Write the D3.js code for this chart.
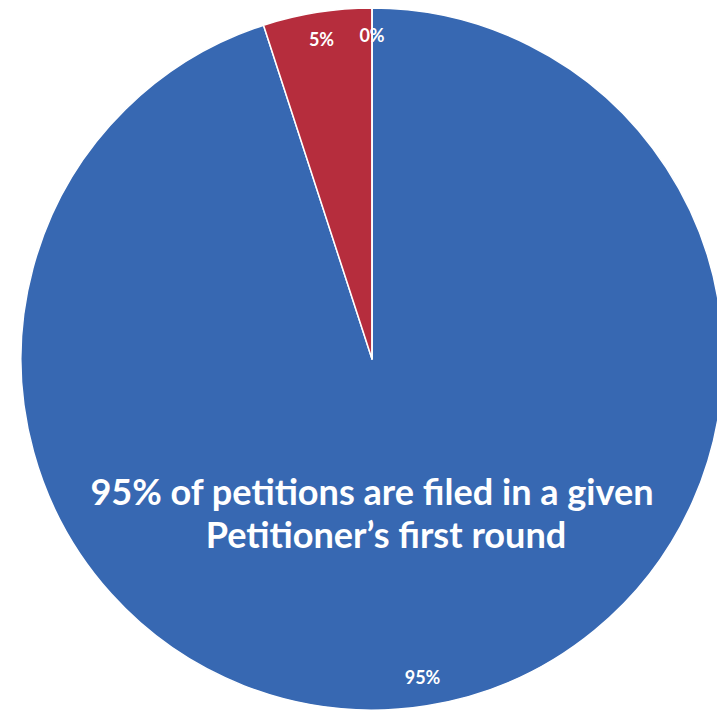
<!DOCTYPE html>
<html>
<head>
<meta charset="utf-8">
<script src="https://cdn.jsdelivr.net/npm/d3@7"></script>
<style>
  html, body { margin: 0; padding: 0; background: #fff; }
  svg { display: block; }
</style>
</head>
<body>
<svg id="chart" width="717" height="712"></svg>
<script>
var width = 717, height = 712;

// data
var categories = ["First round", "Second round", "Later rounds"];
var values = [95, 5, 0];
var labels = ["95%", "5%", "0%"];
var colors = ["#3768b2", "#b62d3d", "#3768b2"];
var noteLines = ["95% of petitions are filed in a given", "Petitioner\u2019s first round"];

var cx = 372, cy = 359, radius = 351;

var svg = d3.select("#chart");
var g = svg.append("g").attr("transform", "translate(" + cx + "," + cy + ")");

var pie = d3.pie().sort(null).value(function(d){ return d; });
var arcs = pie(values);

var arc = d3.arc().innerRadius(0).outerRadius(radius);
var labelArc = d3.arc().innerRadius(323).outerRadius(323);

g.selectAll("path.slice")
  .data(arcs).enter()
  .append("path")
  .attr("class", "slice")
  .attr("d", arc)
  .attr("fill", function(d, i){ return colors[i]; })
  .attr("stroke", "#fff")
  .attr("stroke-width", 1.5)
  .attr("stroke-linejoin", "round");

// small percent labels
g.selectAll("text.pct")
  .data(arcs).enter()
  .append("text")
  .attr("class", "pct")
  .attr("transform", function(d){
    var c = labelArc.centroid(d);
    return "translate(" + c[0] + "," + c[1] + ")";
  })
  .attr("text-anchor", "middle")
  .attr("dy", "0.35em")
  .attr("fill", "#fff")
  .style("font-family", "Lato, 'Open Sans', sans-serif")
  .style("font-weight", "bold")
  .style("font-size", "18px")
  .text(function(d, i){ return labels[i]; });

// big note text, one size for both lines, fitted to the first line
var note = svg.append("g")
  .attr("fill", "#fff")
  .style("font-family", "Lato, 'Open Sans', sans-serif")
  .style("font-weight", "bold")
  .style("font-size", "34px");
var lineX = [372, 386], lineY = [505, 548];
var texts = noteLines.map(function(t, i){
  return note.append("text")
    .attr("x", lineX[i])
    .attr("y", lineY[i])
    .attr("text-anchor", "middle")
    .text(t);
});
var w0 = texts[0].node().getComputedTextLength();
if (w0 > 0) note.style("font-size", (34 * 563 / w0).toFixed(1) + "px");
</script>
</body>
</html>
